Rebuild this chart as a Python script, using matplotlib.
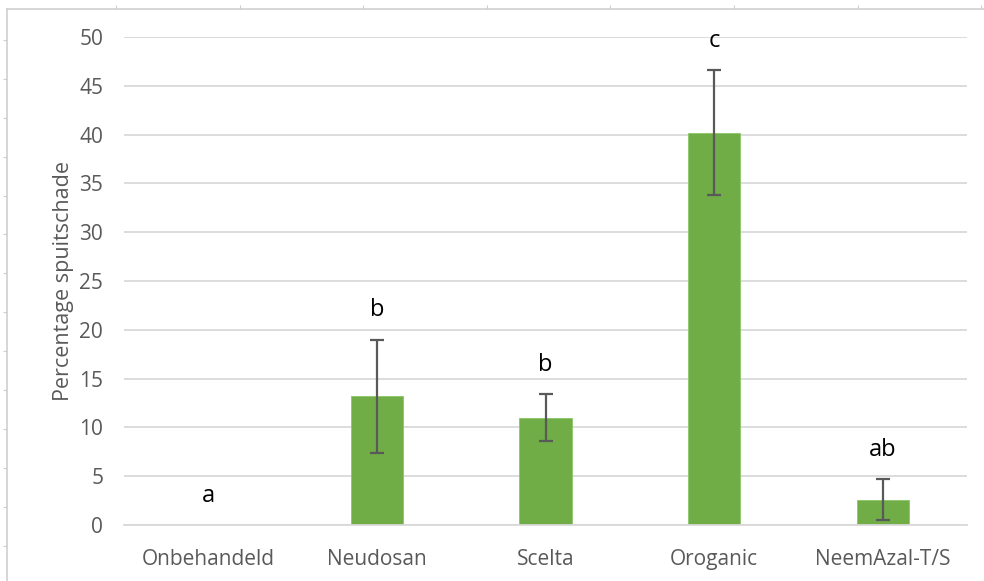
import numpy as np
import matplotlib.pyplot as plt

plt.rcParams['font.family'] = ['Open Sans', 'DejaVu Sans']

behandelingen = ['Onbehandeld', 'Neudosan', 'Scelta', 'Oroganic', 'NeemAzal-T/S']
schade = [0.0, 13.2, 11.0, 40.2, 2.6]
fout = [0.0, 5.8, 2.4, 6.4, 2.1]
letters = ['a', 'b', 'b', 'c', 'ab']

groen = '#70ad47'
grijs = '#595959'
raster = '#d9d9d9'

fig = plt.figure(figsize=(9.84, 5.81), dpi=100)

# spreadsheet frame around the chart (cell border remnants)
bg = fig.add_axes([7 / 984, 0, 1 - 7 / 984, 1 - 9 / 581], zorder=0)
bg.set_xlim(7, 984)
bg.set_ylim(581, 9)
bg.patch.set_alpha(0)
for s in ['right', 'bottom']:
    bg.spines[s].set_visible(False)
for s in ['left', 'top']:
    bg.spines[s].set_color('#cfcfcf')
    bg.spines[s].set_linewidth(1.2)
bg.xaxis.tick_top()
bg.set_xticks(np.arange(116, 984, 123.6))
bg.set_yticks(np.arange(40, 581, 38.9))
bg.tick_params(length=3, color='#cfcfcf', labelleft=False, labeltop=False)

ax = fig.add_axes([124 / 984, 56 / 581, 843 / 984, 488 / 581], zorder=1)
ax.patch.set_alpha(0)
x = np.arange(len(behandelingen))
ax.bar(x, schade, width=0.31, color=groen, edgecolor='#8cc66a', linewidth=0.6, zorder=2)
ax.errorbar(x[1:], schade[1:], yerr=fout[1:], fmt='none', ecolor=grijs,
            elinewidth=1.6, capsize=5, capthick=1.6, zorder=3)

for i, lbl in enumerate(letters):
    ax.text(x[i], schade[i] + fout[i] + 2.4, lbl, ha='center', va='baseline',
            fontsize=17, color='black', zorder=4)

ax.set_xlim(-0.5, len(behandelingen) - 0.5)
ax.set_ylim(0, 50)
ax.set_yticks(np.arange(0, 51, 5))
ax.yaxis.grid(True, color=raster, linewidth=1.3, zorder=0)
ax.set_axisbelow(True)
for s in ['top', 'right', 'left']:
    ax.spines[s].set_visible(False)
ax.spines['bottom'].set_color(raster)
ax.spines['bottom'].set_linewidth(1.3)
ax.set_xticks(x)
ax.set_xticklabels(behandelingen)
ax.tick_params(axis='both', length=0, labelsize=15, colors=grijs, pad=17)
ax.tick_params(axis='y', pad=15)
ax.set_ylabel('Percentage spuitschade', fontsize=15.5, color=grijs, labelpad=4)

fig.savefig('out.png', dpi=100)
